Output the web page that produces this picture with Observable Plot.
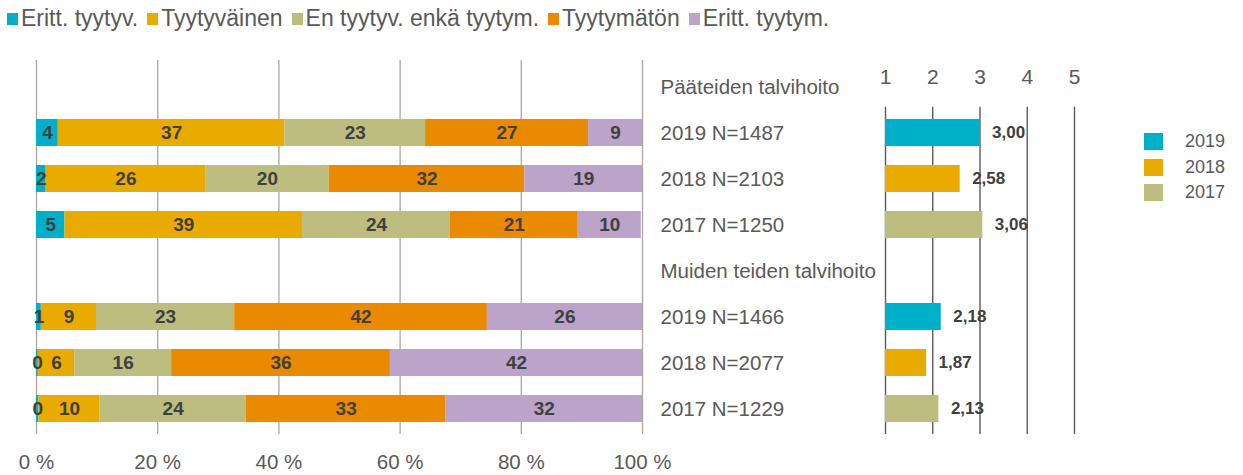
<!DOCTYPE html>
<html>
<head>
<meta charset="utf-8">
<script src="https://cdn.jsdelivr.net/npm/d3@7"></script>
<script src="https://cdn.jsdelivr.net/npm/@observablehq/plot@0.6"></script>
<style>
  html, body { margin: 0; padding: 0; background: #fff; }
  #wrap { position: relative; width: 1243px; height: 475px; overflow: hidden; font-family: "Liberation Sans", Arial, sans-serif; }
  #wrap svg { position: absolute; left: 0; top: 0; }
  .legend-top { position: absolute; left: 7px; top: 5px; display: flex; align-items: center; gap: 9px;
    font-size: 23px; line-height: 27px; color: #595959; white-space: nowrap; }
  .legend-top .item { display: flex; align-items: center; gap: 3px; }
  .legend-top .sw { width: 11px; height: 12px; display: inline-block; }
  .legend-right { position: absolute; left: 1144px; top: 129px; font-size: 18px; color: #595959; }
  .legend-right .item { display: flex; align-items: center; height: 25.5px; }
  .legend-right .sw { width: 19px; height: 17px; display: inline-block; margin-right: 22px; }
</style>
</head>
<body>
<div id="wrap"></div>
<script>
// ---- data ----
const categories = ["Eritt. tyytyv.", "Tyytyväinen", "En tyytyv. enkä tyytym.", "Tyytymätön", "Eritt. tyytym."];
const categoryColors = ["#00b0c9", "#e9ab00", "#bdbd80", "#ea8a00", "#bba3ca"];
const rowLabels = ["Pääteiden talvihoito", "2019 N=1487", "2018 N=2103", "2017 N=1250",
                   "Muiden teiden talvihoito", "2019 N=1466", "2018 N=2077", "2017 N=1229"];
const dataRows = ["2019 N=1487", "2018 N=2103", "2017 N=1250", "2019 N=1466", "2018 N=2077", "2017 N=1229"];
const rowYears = ["2019", "2018", "2017", "2019", "2018", "2017"];
const shares = [
  [3.6, 37.4, 23.2, 26.9, 8.9],
  [1.6, 26.3, 20.4, 32.3, 19.4],
  [4.7, 39.2, 24.4, 21.1, 10.4],
  [0.8, 9.1, 22.8, 41.7, 25.6],
  [0.3, 6.0, 16.0, 36.1, 41.6],
  [0.4, 10.1, 24.1, 33.0, 32.4]
];
const means = [3.00, 2.58, 3.06, 2.18, 1.87, 2.13];
const years = ["2019", "2018", "2017"];
const yearColors = ["#00b0c9", "#e9ab00", "#bdbd80"];
const pctTicks = [0, 20, 40, 60, 80, 100];
const scoreTicks = [1, 2, 3, 4, 5];
const scoreMin = 1;

// ---- tables ----
const segs = dataRows.flatMap((row, i) => categories.map((cat, j) => ({row, cat, value: shares[i][j]})));
const meanData = dataRows.map((row, i) => ({row, year: rowYears[i], mean: means[i]}));

const wrap = document.getElementById("wrap");

// top legend
const lt = document.createElement("div");
lt.className = "legend-top";
categories.forEach((c, i) => {
  const it = document.createElement("div"); it.className = "item";
  const sw = document.createElement("span"); sw.className = "sw"; sw.style.background = categoryColors[i];
  const tx = document.createElement("span"); tx.textContent = c;
  it.append(sw, tx); lt.append(it);
});

const textGrey = "#595959";
const valGrey = "#404040";
const font = '"Liberation Sans", Arial, sans-serif';

const left = Plot.plot({
  width: 880, height: 475,
  marginLeft: 36, marginRight: 238, marginTop: 60, marginBottom: 41,
  style: {background: "transparent", fontFamily: font, color: textGrey},
  x: {domain: [0, 100]},
  y: {domain: rowLabels, paddingInner: 0.42, paddingOuter: 0.21},
  color: {domain: categories, range: categoryColors},
  marks: [
    Plot.gridX(pctTicks, {stroke: "#aca6a1", strokeOpacity: 1, strokeWidth: 1.3}),
    Plot.barX(segs, Plot.stackX({x: "value", y: "row", fill: "cat"})),
    Plot.text(segs, Plot.stackX({x: "value", y: "row", z: "cat", text: d => d.value.toFixed(0),
      fill: valGrey, fontWeight: "bold", fontSize: 19})),
    Plot.axisX(pctTicks, {anchor: "bottom", tickSize: 0, tickPadding: 20, tickFormat: d => `${d} %`,
      fontSize: 20.5, fill: textGrey, label: null}),
    Plot.axisY({anchor: "right", tickSize: 0, tickPadding: 18, textAnchor: "start", fontSize: 20.5, fill: textGrey, label: null})
  ]
});

const right = Plot.plot({
  width: 1243, height: 475,
  marginLeft: 885, marginRight: 169, marginTop: 106.75, marginBottom: 41,
  style: {background: "transparent", fontFamily: font, color: textGrey},
  x: {domain: [1, 5]},
  y: {domain: rowLabels.slice(1), paddingInner: 0.42, paddingOuter: 0.21, axis: null},
  color: {domain: years, range: yearColors},
  marks: [
    Plot.gridX(scoreTicks, {stroke: "#5a5a5a", strokeOpacity: 1, strokeWidth: 1.4}),
    Plot.barX(meanData, {x1: () => scoreMin, x2: "mean", y: "row", fill: "year"}),
    Plot.text(meanData, {x: "mean", y: "row", text: d => d.mean.toFixed(2).replace(".", ","),
      dx: 12, textAnchor: "start", fill: valGrey, fontWeight: "bold", fontSize: 17}),
    Plot.axisX(scoreTicks, {anchor: "top", tickSize: 0, tickPadding: 23, fontSize: 21, fill: textGrey, label: null})
  ]
});

wrap.append(left, right, lt);

// right legend
const lr = document.createElement("div");
lr.className = "legend-right";
years.forEach((y, i) => {
  const it = document.createElement("div"); it.className = "item";
  const sw = document.createElement("span"); sw.className = "sw"; sw.style.background = yearColors[i];
  const tx = document.createElement("span"); tx.textContent = y;
  it.append(sw, tx); lr.append(it);
});
wrap.append(lr);
</script>
</body>
</html>
